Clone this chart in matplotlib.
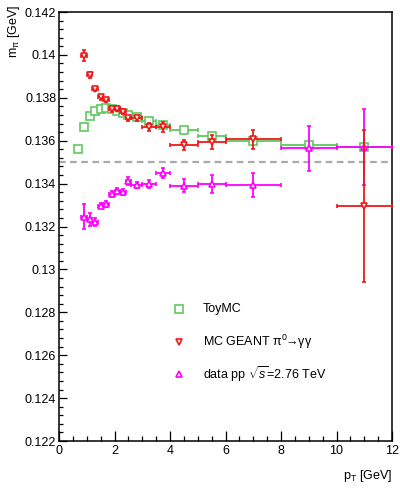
import numpy as np
import matplotlib
matplotlib.use('Agg')
import matplotlib.pyplot as plt

plt.rcParams['font.family'] = ['Liberation Sans', 'DejaVu Sans']
plt.rcParams['mathtext.fontset'] = 'custom'
plt.rcParams['mathtext.rm'] = 'Liberation Sans'
plt.rcParams['mathtext.it'] = 'Liberation Sans:italic'

# pT bins
edges = np.array([0.6, 0.8, 1.0, 1.2, 1.4, 1.6, 1.8, 2.0, 2.2, 2.4, 2.6,
                  3.0, 3.5, 4.0, 5.0, 6.0, 8.0, 10.0, 12.0])
centers = (edges[:-1] + edges[1:]) / 2
halfw = (edges[1:] - edges[:-1]) / 2

# ToyMC (all bins)
toy_m = [0.13561, 0.13662, 0.13715, 0.13738, 0.13748, 0.13754, 0.13746,
         0.13740, 0.13731, 0.13720, 0.13712, 0.13692, 0.13673, 0.13650,
         0.13623, 0.13600, 0.13580, 0.13572]
toy_err = [0.00004] * 18

# MC GEANT (bins 1..14, 15, 17)
mc_idx = [1, 2, 3, 4, 5, 6, 7, 8, 9, 10, 11, 12, 13, 14, 15, 17]
mc_m = [0.13996, 0.13908, 0.13841, 0.13802, 0.13790, 0.13746, 0.13749,
        0.13735, 0.13704, 0.13704, 0.13665, 0.13662, 0.13578, 0.13595,
        0.13606, 0.13296]
mc_err = [0.00026, 0.00014, 0.00010, 0.00010, 0.00010, 0.00010, 0.00012,
          0.00012, 0.00012, 0.00012, 0.00018, 0.00023, 0.00023, 0.00033,
          0.00043, 0.00353]

# data pp 2.76 TeV (bins 1..17)
dat_idx = list(range(1, 18))
dat_m = [0.13246, 0.13233, 0.13220, 0.13297, 0.13305, 0.13352, 0.13366,
         0.13361, 0.13412, 0.13393, 0.13398, 0.13451, 0.13390, 0.13398,
         0.13393, 0.13564, 0.13572]
dat_err = [0.00058, 0.00030, 0.00018, 0.00012, 0.00012, 0.00015, 0.00015,
           0.00015, 0.00018, 0.00015, 0.00018, 0.00023, 0.00030, 0.00043,
           0.00056, 0.00103, 0.00177]

green = '#5fc85f'
red = '#f01818'
magenta = '#ff00ff'

fig = plt.figure(figsize=(4.0, 4.9), dpi=100)
ax = fig.add_axes([0.1475, 0.1, 0.8325, 0.8755])

ax.axhline(0.135, color='#aaaaaa', ls=(0, (3, 2)), lw=1.6, zorder=1)

kw = dict(capsize=1.5, elinewidth=1.3, capthick=1.3, mfc='white', mew=1.2)
ax.errorbar(centers, toy_m, xerr=halfw, yerr=toy_err, fmt='s', ms=5.4,
            color=green, zorder=2, **kw)
ax.errorbar(centers[dat_idx], dat_m, xerr=halfw[dat_idx], yerr=dat_err,
            fmt='^', ms=4.6, color=magenta, zorder=3, **kw)
ax.errorbar(centers[mc_idx], mc_m, xerr=halfw[mc_idx], yerr=mc_err,
            fmt='v', ms=4.6, color=red, zorder=4, **kw)

ax.set_xlim(0, 12)
ax.set_ylim(0.122, 0.142)
ax.set_xticks(np.arange(0, 13, 2))
ax.set_xticks(np.arange(0, 12.01, 0.5), minor=True)
ax.set_yticks(np.arange(0.122, 0.14201, 0.002))
ax.set_yticks(np.arange(0.122, 0.14201, 0.0004), minor=True)
ax.set_xticklabels(['0', '2', '4', '6', '8', '10', '12'])
ax.set_yticklabels(['0.122', '0.124', '0.126', '0.128', '0.13', '0.132',
                    '0.134', '0.136', '0.138', '0.14', '0.142'])
ax.tick_params(which='both', direction='in', top=False, right=False,
               labelsize=9, width=0.9)
ax.tick_params(axis='x', which='major', length=7.5, pad=3)
ax.tick_params(axis='x', which='minor', length=3.6)
ax.tick_params(axis='y', which='major', length=6, pad=2)
ax.tick_params(axis='y', which='minor', length=3.2)
for s in ax.spines.values():
    s.set_linewidth(1.1)

# axis titles
fig.text(0.98, 0.028, r'p$_{\mathrm{T}}$ [GeV]', ha='right', va='center',
         fontsize=9)
fig.text(0.035, 0.99, r'm$_{\mathrm{\pi}}$ [GeV]', ha='center', va='top',
         rotation=90, fontsize=9)

# legend
leg_x, txt_x = 0.3595, 0.4324
rows = [(0.3077, 's', green, 5.4, 'ToyMC'),
        (0.2315, 'v', red, 4.6,
         r'MC GEANT $\mathrm{\pi}^{0}\!\!\rightarrow\!\mathrm{\gamma\gamma}$'),
        (0.1562, '^', magenta, 4.6, r'data pp $\sqrt{s}$=2.76 TeV')]
for yy, mk, c, ms, lab in rows:
    ax.plot([leg_x], [yy], marker=mk, ms=ms, mfc='white', mec=c, mew=1.2,
            transform=ax.transAxes, ls='none')
    ax.text(txt_x, yy, lab, transform=ax.transAxes, va='center', fontsize=9)

fig.savefig('out.png', dpi=100)
